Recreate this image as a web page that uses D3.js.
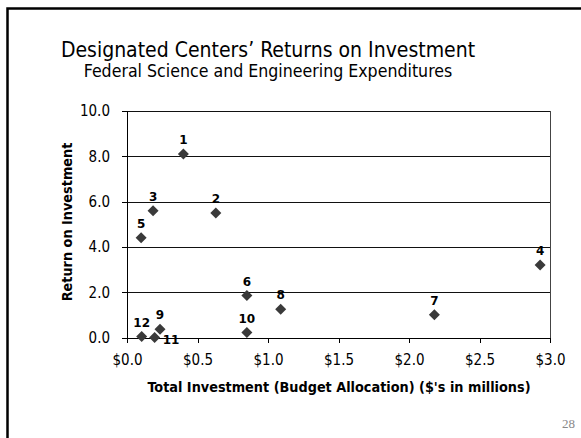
<!DOCTYPE html>
<html>
<head>
<meta charset="utf-8">
<script src="https://cdn.jsdelivr.net/npm/d3@7"></script>
<style>
  body { margin: 0; background: #fff; }
  svg { display: block; }
  .t_title { font-family: "DejaVu Sans Condensed", "DejaVu Sans", sans-serif; fill: #000; }
  .axis text { font-family: "DejaVu Sans Condensed", "DejaVu Sans", sans-serif; font-size: 15px; fill: #000; }
  .axis path, .axis line { stroke: #000; shape-rendering: crispEdges; }
  .a_title { font-family: "DejaVu Sans Condensed", "DejaVu Sans", sans-serif; font-weight: bold; font-size: 14.3px; fill: #000; }
  .p_label { font-family: "DejaVu Sans", Verdana, sans-serif; font-weight: bold; font-size: 12px; fill: #000; }
</style>
</head>
<body>
<svg width="581" height="438"></svg>
<script>
/* ----------------------------------------------------------
data
---------------------------------------------------------- */

var centers = ["1", "2", "3", "4", "5", "6", "7", "8", "9", "10", "11", "12"];
// total investment ($ millions)
var investment = [0.40, 0.63, 0.185, 2.93, 0.10, 0.85, 2.18, 1.09, 0.234, 0.85, 0.196, 0.104];
// return on investment
var roi = [8.1, 5.5, 5.6, 3.2, 4.4, 1.85, 1.0, 1.25, 0.36, 0.22, 0.0, 0.04];

var yTicks = [0, 2, 4, 6, 8, 10];
var xTicks = [0, 0.5, 1, 1.5, 2, 2.5, 3];

var title = "Designated Centers\u2019 Returns on Investment";
var subtitle = "Federal Science and Engineering Expenditures";
var xTitle = "Total Investment (Budget Allocation) ($'s in millions)";
var yTitle = "Return on Investment";

/* ----------------------------------------------------------
prepare
---------------------------------------------------------- */

var svg = d3.select("svg");

// slide frame
svg.append("rect")
  .attr("x", 7.5).attr("y", 8.5)
  .attr("width", 600).attr("height", 460)
  .attr("fill", "none").attr("stroke", "#000").attr("stroke-width", 2.5);

svg.append("text").attr("class", "t_title")
  .attr("x", 268).attr("y", 57).attr("text-anchor", "middle")
  .style("font-size", "21px").text(title);
svg.append("text").attr("class", "t_title")
  .attr("x", 268).attr("y", 77).attr("text-anchor", "middle")
  .style("font-size", "17.6px").text(subtitle);

var plot = { left: 127, right: 550, top: 111, bottom: 337.5 };

var x = d3.scaleLinear().domain([0, 3]).range([plot.left, plot.right]);
var y = d3.scaleLinear().domain([0, 10]).range([plot.bottom, plot.top]);

// grid
svg.append("g").selectAll("line")
  .data(yTicks.filter(d => d > 0)).enter().append("line")
  .attr("x1", plot.left).attr("x2", plot.right)
  .attr("y1", d => Math.round(y(d)) + 0.5).attr("y2", d => Math.round(y(d)) + 0.5)
  .attr("stroke", "#111").attr("shape-rendering", "crispEdges");

// right border
svg.append("line")
  .attr("x1", plot.right + 0.5).attr("x2", plot.right + 0.5)
  .attr("y1", y(10)).attr("y2", y(0))
  .attr("stroke", "#444").attr("shape-rendering", "crispEdges");

// axes
var yAxis = d3.axisLeft(y).tickValues(yTicks).tickSize(5).tickPadding(12)
  .tickFormat(d3.format(".1f"));
svg.append("g").attr("class", "axis")
  .attr("transform", "translate(" + plot.left + ",0)")
  .call(yAxis)
  .call(g => g.select(".domain").attr("d", "M0," + y(0) + "V" + y(10)));

var xAxis = d3.axisBottom(x).tickValues(xTicks).tickSize(5).tickPadding(11)
  .tickFormat(d => "$" + d3.format(".1f")(d));
svg.append("g").attr("class", "axis")
  .attr("transform", "translate(0," + Math.round(y(0)) + ")")
  .call(xAxis)
  .call(g => g.select(".domain").attr("d", "M" + plot.left + ",0.5H" + plot.right));

svg.append("text").attr("class", "a_title")
  .attr("x", 339).attr("y", 392).attr("text-anchor", "middle").text(xTitle);
svg.append("text").attr("class", "a_title")
  .attr("transform", "translate(72," + 222 + ") rotate(-90)")
  .attr("text-anchor", "middle").text(yTitle);

// points
var pts = centers.map((c, i) => ({ name: c, inv: investment[i], roi: roi[i] }));
var r = 5.5;
var gp = svg.append("g").selectAll("g")
  .data(pts).enter().append("g")
  .attr("transform", d => "translate(" + x(d.inv) + "," + y(d.roi) + ")");

gp.append("path")
  .attr("d", "M0," + (-r) + "L" + r + ",0L0," + r + "L" + (-r) + ",0Z")
  .attr("fill", "#3a3a3a");

gp.append("text").attr("class", "p_label")
  .attr("x", d => d.name == "11" ? 8 : 0)
  .attr("y", d => d.name == "11" ? 6 : -10)
  .attr("text-anchor", d => d.name == "11" ? "start" : "middle")
  .text(d => d.name);

// page number
svg.append("text")
  .attr("x", 575).attr("y", 428).attr("text-anchor", "end")
  .style("font-family", "'Liberation Serif', serif").style("font-size", "13px")
  .style("fill", "#888").text("28");
</script>
</body>
</html>
